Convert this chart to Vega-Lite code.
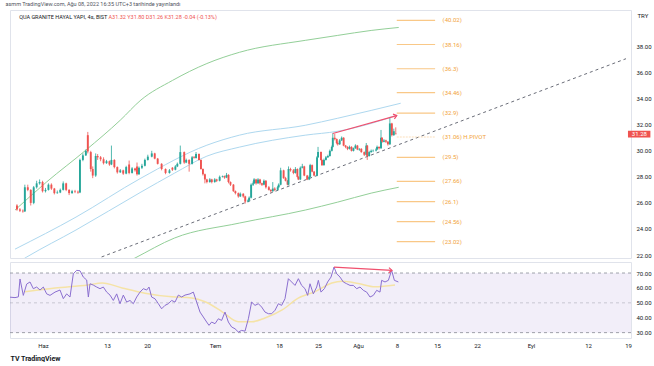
{
"$schema":"https://vega.github.io/schema/vega-lite/v6.json",
"background":"white",
"padding":{"left":5,"top":2,"right":0,"bottom":0},
"bounds":"flush",
"spacing":4,
"title":{"text":"asmm TradingView.com, Ağu 08, 2022 16:35 UTC+3 tarihinde yayınlandı","anchor":"start","fontSize":5.5,"fontWeight":"normal","color":"#50535e","offset":2,"dx":-2},
"config":{"font":"Roboto","view":{"stroke":"#e0e3eb"}},
"datasets":{
"candles":[
{"t":-3.875,"o":25.8,"h":25.9,"l":25.4,"c":25.5},
{"t":-3.5,"o":25.5,"h":25.6,"l":25.3,"c":25.4},
{"t":-3.125,"o":25.4,"h":25.5,"l":25.25,"c":25.35},
{"t":-2.875,"o":25.35,"h":27.4,"l":25.3,"c":27.2},
{"t":-2.5,"o":27.2,"h":27.4,"l":26.9,"c":27.0},
{"t":-2.125,"o":27.0,"h":27.05,"l":25.8,"c":26.0},
{"t":-1.75,"o":26.0,"h":27.3,"l":25.9,"c":27.2},
{"t":-1.375,"o":27.2,"h":27.7,"l":27.1,"c":27.5},
{"t":-1,"o":27.5,"h":27.8,"l":27.4,"c":27.6},
{"t":-0.625,"o":27.6,"h":27.7,"l":26.8,"c":26.9},
{"t":-0.25,"o":26.9,"h":27.15,"l":26.8,"c":27.0},
{"t":0.125,"o":27.0,"h":27.5,"l":26.95,"c":27.4},
{"t":0.5,"o":27.4,"h":27.5,"l":27.0,"c":27.1},
{"t":0.875,"o":27.1,"h":27.15,"l":26.65,"c":26.75},
{"t":1.25,"o":26.75,"h":26.95,"l":26.7,"c":26.8},
{"t":1.625,"o":26.8,"h":27.1,"l":26.75,"c":27.0},
{"t":2,"o":27.0,"h":27.65,"l":26.95,"c":27.5},
{"t":2.375,"o":27.5,"h":27.55,"l":26.9,"c":27.0},
{"t":2.75,"o":27.0,"h":27.05,"l":26.6,"c":26.75},
{"t":3.125,"o":26.75,"h":27.0,"l":26.7,"c":26.9},
{"t":3.5,"o":26.9,"h":27.0,"l":26.75,"c":26.85},
{"t":3.875,"o":26.85,"h":26.95,"l":26.7,"c":26.8},
{"t":4.125,"o":26.8,"h":29.4,"l":26.75,"c":29.3},
{"t":4.5,"o":29.3,"h":29.8,"l":29.2,"c":29.65},
{"t":4.875,"o":29.65,"h":30.1,"l":29.6,"c":30.0},
{"t":5.125,"o":31.2,"h":31.45,"l":29.8,"c":29.95},
{"t":5.5,"o":29.9,"h":30.0,"l":28.4,"c":28.6},
{"t":5.75,"o":28.6,"h":28.8,"l":27.9,"c":28.1},
{"t":6.125,"o":28.1,"h":29.8,"l":28.0,"c":29.6},
{"t":6.375,"o":29.6,"h":29.75,"l":29.3,"c":29.5},
{"t":6.75,"o":29.5,"h":29.6,"l":29.2,"c":29.35},
{"t":7.125,"o":29.35,"h":29.5,"l":28.95,"c":29.05},
{"t":7.5,"o":29.05,"h":29.3,"l":29.0,"c":29.2},
{"t":7.875,"o":29.2,"h":29.25,"l":28.85,"c":28.95},
{"t":8.125,"o":28.95,"h":30.4,"l":28.9,"c":29.3},
{"t":8.5,"o":29.3,"h":29.35,"l":28.65,"c":28.75},
{"t":8.875,"o":28.75,"h":28.8,"l":28.25,"c":28.35},
{"t":9.25,"o":28.35,"h":28.6,"l":28.3,"c":28.5},
{"t":9.625,"o":28.5,"h":28.55,"l":28.15,"c":28.25},
{"t":10,"o":28.25,"h":28.85,"l":28.2,"c":28.75},
{"t":10.375,"o":28.95,"h":29.25,"l":28.2,"c":28.3},
{"t":10.75,"o":28.3,"h":28.75,"l":28.25,"c":28.65},
{"t":11.125,"o":28.65,"h":28.7,"l":28.4,"c":28.5},
{"t":11.375,"o":28.8,"h":29.1,"l":28.1,"c":28.2},
{"t":11.625,"o":28.2,"h":28.8,"l":28.15,"c":28.7},
{"t":12,"o":28.7,"h":29.0,"l":28.6,"c":28.85},
{"t":12.375,"o":28.85,"h":29.4,"l":28.8,"c":29.3},
{"t":12.75,"o":29.3,"h":29.7,"l":29.25,"c":29.55},
{"t":13.25,"o":29.55,"h":30.0,"l":29.5,"c":29.8},
{"t":13.625,"o":29.8,"h":29.85,"l":29.35,"c":29.4},
{"t":14,"o":29.4,"h":29.45,"l":28.95,"c":29.0},
{"t":14.5,"o":29.0,"h":29.05,"l":28.5,"c":28.6},
{"t":15,"o":28.6,"h":28.65,"l":28.2,"c":28.3},
{"t":15.5,"o":28.3,"h":28.6,"l":28.25,"c":28.5},
{"t":15.875,"o":28.7,"h":28.75,"l":28.45,"c":28.55},
{"t":16.25,"o":28.55,"h":28.9,"l":28.5,"c":28.8},
{"t":16.5,"o":28.8,"h":29.1,"l":28.75,"c":29.0},
{"t":16.875,"o":29.0,"h":30.4,"l":28.95,"c":29.9},
{"t":17.375,"o":29.9,"h":29.95,"l":29.0,"c":29.1},
{"t":17.625,"o":29.1,"h":29.4,"l":29.05,"c":29.3},
{"t":18,"o":29.3,"h":29.35,"l":28.4,"c":29.0},
{"t":18.375,"o":29.0,"h":29.6,"l":28.95,"c":29.5},
{"t":18.625,"o":29.5,"h":29.6,"l":29.4,"c":29.45},
{"t":18.875,"o":29.45,"h":29.9,"l":29.4,"c":29.75},
{"t":19.25,"o":29.75,"h":29.8,"l":29.25,"c":29.3},
{"t":19.5,"o":29.3,"h":29.35,"l":28.55,"c":28.6},
{"t":19.75,"o":28.6,"h":28.65,"l":28.1,"c":28.2},
{"t":20,"o":28.2,"h":28.25,"l":27.5,"c":27.8},
{"t":20.25,"o":27.8,"h":27.85,"l":27.5,"c":27.6},
{"t":20.625,"o":27.6,"h":27.9,"l":27.55,"c":27.8},
{"t":20.875,"o":27.8,"h":27.85,"l":27.5,"c":27.6},
{"t":21.25,"o":27.6,"h":27.9,"l":27.55,"c":27.8},
{"t":21.5,"o":27.8,"h":27.85,"l":27.6,"c":27.7},
{"t":21.875,"o":27.7,"h":28.1,"l":27.65,"c":28.0},
{"t":22.25,"o":28.0,"h":28.1,"l":27.95,"c":28.05},
{"t":22.5,"o":28.05,"h":28.1,"l":27.85,"c":27.95},
{"t":22.75,"o":27.95,"h":28.3,"l":27.9,"c":28.15},
{"t":23,"o":28.15,"h":28.2,"l":27.5,"c":27.6},
{"t":23.25,"o":27.6,"h":27.65,"l":27.3,"c":27.4},
{"t":23.625,"o":27.4,"h":27.45,"l":26.85,"c":26.9},
{"t":23.875,"o":26.9,"h":26.95,"l":26.65,"c":26.75},
{"t":24.25,"o":26.75,"h":26.8,"l":26.4,"c":26.5},
{"t":24.5,"o":26.5,"h":26.8,"l":26.45,"c":26.7},
{"t":24.875,"o":26.7,"h":26.75,"l":26.4,"c":26.5},
{"t":25.125,"o":26.5,"h":26.55,"l":25.95,"c":26.1},
{"t":25.5,"o":26.1,"h":26.3,"l":26.05,"c":26.2},
{"t":25.625,"o":26.2,"h":26.5,"l":26.15,"c":26.4},
{"t":25.875,"o":26.4,"h":27.5,"l":26.35,"c":27.4},
{"t":26.125,"o":27.4,"h":27.65,"l":27.3,"c":27.5},
{"t":26.25,"o":27.5,"h":27.9,"l":27.45,"c":27.8},
{"t":26.5,"o":27.8,"h":27.85,"l":27.4,"c":27.5},
{"t":26.75,"o":27.5,"h":27.9,"l":27.45,"c":27.8},
{"t":27,"o":27.8,"h":27.85,"l":27.4,"c":27.5},
{"t":27.25,"o":27.5,"h":27.55,"l":27.3,"c":27.4},
{"t":27.5,"o":27.4,"h":27.8,"l":27.35,"c":27.7},
{"t":27.75,"o":27.7,"h":27.75,"l":27.1,"c":27.2},
{"t":28.125,"o":27.2,"h":27.3,"l":26.95,"c":27.0},
{"t":28.375,"o":27.0,"h":27.05,"l":26.8,"c":26.9},
{"t":28.625,"o":26.9,"h":27.6,"l":26.85,"c":27.1},
{"t":28.875,"o":27.1,"h":27.2,"l":26.9,"c":27.0},
{"t":29.25,"o":27.0,"h":27.3,"l":26.95,"c":27.2},
{"t":29.375,"o":27.2,"h":27.5,"l":27.15,"c":27.4},
{"t":29.625,"o":27.4,"h":28.7,"l":27.35,"c":28.5},
{"t":30,"o":28.5,"h":28.55,"l":27.85,"c":27.9},
{"t":30.25,"o":27.9,"h":28.0,"l":27.65,"c":27.7},
{"t":30.5,"o":27.7,"h":27.75,"l":27.35,"c":27.4},
{"t":30.625,"o":27.4,"h":28.8,"l":27.35,"c":28.6},
{"t":30.875,"o":28.6,"h":28.7,"l":28.4,"c":28.5},
{"t":31.25,"o":28.5,"h":28.6,"l":28.2,"c":28.3},
{"t":31.5,"o":28.3,"h":28.75,"l":28.25,"c":28.6},
{"t":31.75,"o":28.6,"h":28.65,"l":27.95,"c":28.0},
{"t":31.875,"o":28.0,"h":28.05,"l":27.75,"c":27.8},
{"t":32.125,"o":27.8,"h":28.8,"l":27.75,"c":28.7},
{"t":32.375,"o":28.7,"h":29.0,"l":28.65,"c":28.8},
{"t":32.625,"o":28.8,"h":28.85,"l":28.05,"c":28.1},
{"t":33,"o":28.1,"h":28.15,"l":27.75,"c":27.8},
{"t":33.25,"o":27.8,"h":28.1,"l":27.75,"c":28.0},
{"t":33.375,"o":28.0,"h":29.0,"l":27.95,"c":28.9},
{"t":33.625,"o":28.9,"h":28.95,"l":28.35,"c":28.4},
{"t":33.875,"o":28.4,"h":28.45,"l":28.05,"c":28.1},
{"t":34.25,"o":28.1,"h":29.6,"l":28.05,"c":29.5},
{"t":34.375,"o":29.5,"h":30.3,"l":29.45,"c":29.9},
{"t":34.75,"o":29.9,"h":29.95,"l":29.25,"c":29.3},
{"t":34.875,"o":29.3,"h":29.35,"l":28.85,"c":28.9},
{"t":35.125,"o":28.9,"h":29.4,"l":28.85,"c":29.3},
{"t":35.375,"o":29.3,"h":29.6,"l":29.25,"c":29.5},
{"t":35.625,"o":29.5,"h":29.7,"l":29.45,"c":29.6},
{"t":35.875,"o":29.6,"h":30.1,"l":29.55,"c":30.0},
{"t":36.125,"o":30.0,"h":30.4,"l":29.95,"c":30.3},
{"t":36.25,"o":30.3,"h":31.35,"l":30.25,"c":31.0},
{"t":36.5,"o":31.0,"h":31.3,"l":30.8,"c":30.9},
{"t":36.75,"o":30.9,"h":30.95,"l":30.5,"c":30.6},
{"t":36.875,"o":30.6,"h":30.7,"l":30.4,"c":30.5},
{"t":37.125,"o":30.5,"h":30.9,"l":30.45,"c":30.8},
{"t":37.375,"o":30.8,"h":31.1,"l":30.75,"c":31.0},
{"t":37.625,"o":31.0,"h":31.05,"l":30.35,"c":30.4},
{"t":37.875,"o":30.4,"h":30.45,"l":30.2,"c":30.3},
{"t":38.125,"o":30.3,"h":30.35,"l":30.05,"c":30.15},
{"t":38.375,"o":30.15,"h":30.4,"l":30.1,"c":30.3},
{"t":38.625,"o":30.3,"h":30.35,"l":29.95,"c":30.0},
{"t":38.875,"o":30.0,"h":30.25,"l":29.95,"c":30.2},
{"t":39.125,"o":30.2,"h":30.5,"l":30.15,"c":30.4},
{"t":39.375,"o":30.4,"h":30.45,"l":30.05,"c":30.1},
{"t":39.625,"o":30.1,"h":30.2,"l":30.0,"c":30.15},
{"t":39.875,"o":30.15,"h":30.2,"l":29.85,"c":29.9},
{"t":40.25,"o":29.9,"h":29.95,"l":29.6,"c":29.7},
{"t":40.5,"o":29.7,"h":30.6,"l":29.65,"c":30.4},
{"t":40.625,"o":30.4,"h":30.45,"l":29.3,"c":29.6},
{"t":40.875,"o":29.6,"h":30.0,"l":29.55,"c":29.9},
{"t":41.125,"o":29.9,"h":30.1,"l":29.85,"c":30.0},
{"t":41.375,"o":30.0,"h":30.1,"l":29.9,"c":30.02},
{"t":41.75,"o":30.02,"h":30.2,"l":29.95,"c":30.1},
{"t":41.875,"o":30.1,"h":30.4,"l":30.05,"c":30.3},
{"t":42.125,"o":30.3,"h":30.35,"l":30.1,"c":30.2},
{"t":42.375,"o":30.2,"h":31.6,"l":30.15,"c":31.0},
{"t":42.5,"o":31.0,"h":31.05,"l":30.6,"c":30.7},
{"t":42.75,"o":30.7,"h":30.9,"l":30.65,"c":30.8},
{"t":43,"o":30.8,"h":30.85,"l":30.6,"c":30.7},
{"t":43.25,"o":30.7,"h":30.75,"l":30.4,"c":30.5},
{"t":43.5,"o":30.5,"h":32.6,"l":30.45,"c":32.1},
{"t":43.75,"o":32.1,"h":32.15,"l":31.1,"c":31.2},
{"t":44,"o":31.2,"h":31.7,"l":31.15,"c":31.5},
{"t":44.25,"o":31.32,"h":31.8,"l":31.26,"c":31.28}
],
"bands":[
{"s":"ug","t":-4.125,"v":25.45},{"s":"ug","t":-0.125,"v":27.6},{"s":"ug","t":4.875,"v":30.05},{"s":"ug","t":9.25,"v":32.35},{"s":"ug","t":11.875,"v":33.9},{"s":"ug","t":15.875,"v":35.4},{"s":"ug","t":20.25,"v":36.7},{"s":"ug","t":24.375,"v":37.56},{"s":"ug","t":32.75,"v":38.48},{"s":"ug","t":36.875,"v":38.86},{"s":"ug","t":41.125,"v":39.24},{"s":"ug","t":44.625,"v":39.47},
{"s":"lg","t":8.5,"v":20.95},{"s":"lg","t":11.125,"v":21.77},{"s":"lg","t":16.125,"v":23.3},{"s":"lg","t":24.375,"v":24.45},{"s":"lg","t":32.75,"v":25.45},{"s":"lg","t":36.875,"v":26.06},{"s":"lg","t":41.125,"v":26.75},{"s":"lg","t":44.625,"v":27.2},
{"s":"ub","t":-4.125,"v":22.45},{"s":"ub","t":3.625,"v":24.91},{"s":"ub","t":11.875,"v":27.9},{"s":"ub","t":20.25,"v":30.43},{"s":"ub","t":24.375,"v":31.2},{"s":"ub","t":32.75,"v":31.96},{"s":"ub","t":36.875,"v":32.5},{"s":"ub","t":41.125,"v":33.1},{"s":"ub","t":44.875,"v":33.65},
{"s":"ib","t":-4.125,"v":21.3},{"s":"ib","t":-2.625,"v":21.85},{"s":"ib","t":3.625,"v":23.92},{"s":"ib","t":11.875,"v":26.83},{"s":"ib","t":16.125,"v":28.28},{"s":"ib","t":20.25,"v":29.59},{"s":"ib","t":24.375,"v":30.28},{"s":"ib","t":32.75,"v":31.2},{"s":"ib","t":36.875,"v":31.5},{"s":"ib","t":41.125,"v":32.1},{"s":"ib","t":44.375,"v":32.73}
],
"trend":[{"t":6.875,"v":21.85},{"t":73.5,"v":37.07}],
"parrow":[{"t":36.25,"v":31.33},{"t":44.375,"v":32.7}],
"rarrow":[{"t":36.375,"v":74},{"t":43.625,"v":71.8}],
"pivots":[
{"v":40.02,"k":"(40.02)","p":0},{"v":38.16,"k":"(38.16)","p":0},{"v":36.3,"k":"(36.3)","p":0},{"v":34.46,"k":"(34.46)","p":0},{"v":32.9,"k":"(32.9)","p":0},{"v":31.06,"k":"(31.06) H.PIVOT","p":1},{"v":29.5,"k":"(29.5)","p":0},{"v":27.66,"k":"(27.66)","p":0},{"v":26.1,"k":"(26.1)","p":0},{"v":24.56,"k":"(24.56)","p":0},{"v":23.02,"k":"(23.02)","p":0}
],
"rsi":[
{"t":-4.125,"v":53.8},{"t":-3.5,"v":53.5},{"t":-3.08,"v":54},{"t":-2.875,"v":66},{"t":-2.46,"v":55},{"t":-2.04,"v":62.6},{"t":-1.625,"v":64},{"t":-1.21,"v":59.5},{"t":-0.79,"v":60.6},{"t":-0.375,"v":58.6},{"t":0.04,"v":60.6},{"t":0.46,"v":56},{"t":0.875,"v":55},{"t":1.5,"v":57.2},{"t":2.125,"v":58.6},{"t":2.54,"v":52.8},{"t":2.96,"v":56},{"t":3.375,"v":53.9},{"t":3.79,"v":69.5},{"t":4.21,"v":71.8},{"t":4.625,"v":71.5},{"t":5.04,"v":67.3},{"t":5.46,"v":65.3},{"t":5.67,"v":53.9},{"t":5.875,"v":62.8},{"t":6.29,"v":61.9},{"t":6.71,"v":60.6},{"t":7.125,"v":59.5},{"t":7.54,"v":60.6},{"t":7.96,"v":57.2},{"t":8.375,"v":55.2},{"t":8.79,"v":51.6},{"t":9.21,"v":56},{"t":9.625,"v":49.4},{"t":10.04,"v":55.2},{"t":10.46,"v":50.5},{"t":10.875,"v":51.6},{"t":11.29,"v":49.4},{"t":11.71,"v":53.9},{"t":12.125,"v":57.2},{"t":12.54,"v":59.5},{"t":12.96,"v":58.6},{"t":13.25,"v":60.6},{"t":13.58,"v":53.9},{"t":14,"v":52.7},{"t":14.42,"v":49.4},{"t":14.83,"v":46},{"t":15.25,"v":48.3},{"t":15.67,"v":49.4},{"t":16.08,"v":51.6},{"t":16.5,"v":50.5},{"t":16.92,"v":55.2},{"t":17.33,"v":53.9},{"t":17.75,"v":55.2},{"t":18.375,"v":56},{"t":18.79,"v":57.2},{"t":19.21,"v":50.5},{"t":19.625,"v":43.8},{"t":20.04,"v":40.5},{"t":20.46,"v":37.1},{"t":20.75,"v":34.9},{"t":21.08,"v":37.1},{"t":21.5,"v":36},{"t":21.92,"v":39.3},{"t":22.33,"v":38.2},{"t":22.75,"v":43.8},{"t":23.17,"v":37.1},{"t":23.58,"v":33.8},{"t":24,"v":32.6},{"t":24.42,"v":30.4},{"t":24.83,"v":31.5},{"t":25.25,"v":31},{"t":25.67,"v":39.3},{"t":26.08,"v":50.5},{"t":26.5,"v":48.3},{"t":26.92,"v":49.4},{"t":27.33,"v":47.2},{"t":27.75,"v":43.8},{"t":28.17,"v":42.7},{"t":28.58,"v":42.7},{"t":29,"v":45},{"t":29.42,"v":49.4},{"t":29.83,"v":48.3},{"t":30.25,"v":52.8},{"t":30.67,"v":66.2},{"t":31.08,"v":64},{"t":31.5,"v":61.7},{"t":31.92,"v":66.2},{"t":32.33,"v":61.7},{"t":32.75,"v":59.5},{"t":33.08,"v":55},{"t":33.375,"v":62.8},{"t":33.79,"v":56},{"t":34.21,"v":60.6},{"t":34.42,"v":65.1},{"t":34.75,"v":57.2},{"t":35.17,"v":59.5},{"t":35.58,"v":64},{"t":36,"v":67.3},{"t":36.375,"v":74},{"t":36.71,"v":69.5},{"t":37.125,"v":67.3},{"t":37.54,"v":64},{"t":37.96,"v":62.8},{"t":38.375,"v":61.7},{"t":38.79,"v":61.7},{"t":39.21,"v":59.5},{"t":39.625,"v":60.6},{"t":40.04,"v":58.4},{"t":40.46,"v":57.2},{"t":40.875,"v":53.9},{"t":41.29,"v":55},{"t":41.71,"v":58.4},{"t":42.125,"v":57.2},{"t":42.33,"v":65.1},{"t":42.75,"v":64},{"t":43.17,"v":65.1},{"t":43.58,"v":71.8},{"t":43.92,"v":65.1},{"t":44.42,"v":64}
],
"ma":[
{"t":-2.25,"v":57.5},{"t":1.5,"v":59.9},{"t":5.6,"v":62},{"t":7.4,"v":63.3},{"t":9.9,"v":60},{"t":12.75,"v":56.5},{"t":16.1,"v":54},{"t":18.6,"v":53.2},{"t":20.25,"v":50.7},{"t":22.4,"v":44},{"t":24.4,"v":37.3},{"t":26.1,"v":37.3},{"t":27.75,"v":39.8},{"t":29.9,"v":45.2},{"t":31.9,"v":53.2},{"t":34,"v":57.5},{"t":36.1,"v":63.3},{"t":37.4,"v":64.5},{"t":39.4,"v":63},{"t":41.5,"v":60.8},{"t":44,"v":62}
],
"rsilevels":[{"v":70},{"v":50},{"v":30}]
},
"vconcat":[
{
"width":621,"height":248,
"layer":[
{"data":{"name":"bands"},"mark":{"type":"line","clip":true,"strokeWidth":1,"interpolate":"monotone"},
"encoding":{
"x":{"field":"t","type":"quantitative","scale":{"domain":[-4.125,73.5],"nice":false,"zero":false},"axis":null},
"y":{"field":"v","type":"quantitative","scale":{"domain":[21.77,40.81],"nice":false,"zero":false},
"axis":{"orient":"right","values":[22,24,26,28,30,32,34,36,38],"tickCount":30,"format":".2f","title":"TRY","titleAngle":0,"titleAlign":"left","titleBaseline":"top","titleX":6,"titleY":2,"titleFontSize":6,"titleFontWeight":"normal","titleColor":"#131722","labelFontSize":6,"labelColor":"#131722","labelPadding":5,"labelOverlap":false,"labelBound":false,"ticks":false,"domain":false,"grid":false}},
"color":{"field":"s","type":"nominal","scale":{"domain":["ug","lg","ub","ib"],"range":["#93cf98","#93cf98","#aed8ef","#aed8ef"]},"legend":null},
"detail":{"field":"s"}}},
{"data":{"name":"trend"},"mark":{"type":"line","clip":true,"strokeWidth":1,"strokeDash":[3,3],"color":"#6a6d78"},
"encoding":{
"x":{"field":"t","type":"quantitative","axis":null},
"y":{"field":"v","type":"quantitative"}}},
{"data":{"name":"pivots"},"mark":{"type":"rule","strokeWidth":1.2},
"encoding":{
"x":{"datum":44.375,"type":"quantitative","axis":null},
"x2":{"datum":49.25},
"y":{"field":"v","type":"quantitative"},
"color":{"condition":{"test":"datum.p==1","value":"#fbe0bb"},"value":"#f9c887"},
"strokeDash":{"condition":{"test":"datum.p==1","value":[2,1]},"value":[1,0]}}},
{"data":{"name":"pivots"},"mark":{"type":"text","align":"left","baseline":"middle","fontSize":6,"color":"#f2a33a"},
"encoding":{
"x":{"datum":50.2,"type":"quantitative","axis":null},
"y":{"field":"v","type":"quantitative"},
"text":{"field":"k"}}},
{"data":{"name":"candles"},"mark":{"type":"rule","strokeWidth":0.8},
"encoding":{
"x":{"field":"t","type":"quantitative","axis":null},
"y":{"field":"l","type":"quantitative"},
"y2":{"field":"h"},
"color":{"condition":{"test":"datum.c >= datum.o","value":"#26a69a"},"value":"#ef5350"}}},
{"data":{"name":"candles"},"mark":{"type":"bar","size":1.9},
"encoding":{
"x":{"field":"t","type":"quantitative","axis":null},
"y":{"field":"o","type":"quantitative"},
"y2":{"field":"c"},
"color":{"condition":{"test":"datum.c >= datum.o","value":"#26a69a"},"value":"#ef5350"}}},
{"data":{"name":"parrow"},"mark":{"type":"line","strokeWidth":1.2,"color":"#f0506e"},
"encoding":{
"x":{"field":"t","type":"quantitative","axis":null},
"y":{"field":"v","type":"quantitative"}}},
{"data":{"name":"parrow"},"transform":[{"filter":"datum.t > 40"}],"mark":{"type":"point","shape":"M -1 -0.8 L 0 0 L -1 0.8","filled":false,"size":40,"strokeWidth":1.2,"color":"#f0506e","angle":-16,"opacity":1},
"encoding":{
"x":{"field":"t","type":"quantitative","axis":null},
"y":{"field":"v","type":"quantitative"}}},
{"data":{"values":[{}]},"mark":{"type":"text","align":"left","baseline":"middle","fontSize":5.5,"color":"#131722"},
"encoding":{
"x":{"datum":-3.6,"type":"quantitative","axis":null},
"y":{"datum":40.3,"type":"quantitative"},
"text":{"value":"QUA GRANITE HAYAL YAPI, 4s, BIST"}}},
{"data":{"values":[{}]},"mark":{"type":"text","align":"left","baseline":"middle","fontSize":5.5,"color":"#ef5350"},
"encoding":{
"x":{"datum":7.75,"type":"quantitative","axis":null},
"y":{"datum":40.3,"type":"quantitative"},
"text":{"value":"A31.32 Y31.80 D31.26 K31.28 -0.04 (-0.13%)"}}},
{"data":{"values":[{}]},"mark":{"type":"rect","color":"#ef5350"},
"encoding":{
"x":{"datum":73.75,"type":"quantitative","axis":null},
"x2":{"datum":76.6},
"y":{"datum":31.02,"type":"quantitative"},
"y2":{"datum":31.54}}},
{"data":{"values":[{}]},"mark":{"type":"text","align":"center","baseline":"middle","fontSize":6,"color":"white"},
"encoding":{
"x":{"datum":75.2,"type":"quantitative","axis":null},
"y":{"datum":31.28,"type":"quantitative"},
"text":{"value":"31.28"}}}
]
},
{
"width":621,"height":76,
"layer":[
{"data":{"name":"rsi"},"mark":{"type":"line","strokeWidth":1,"color":"#8b6fd0","opacity":0},
"encoding":{
"x":{"field":"t","type":"quantitative","scale":{"domain":[-4.125,73.5],"nice":false,"zero":false},
"axis":{"orient":"bottom","values":[0,8,13,21.5,29.5,34.375,39.375,44.25,49.25,54.25,61,68.125,73.125],"tickCount":30,
"labelExpr":"datum.value==0?'Haz':datum.value==8?'13':datum.value==13?'20':datum.value==21.5?'Tem':datum.value==29.5?'18':datum.value==34.375?'25':datum.value==39.375?'Ağu':datum.value==44.25?'8':datum.value==49.25?'15':datum.value==54.25?'22':datum.value==61?'Eyl':datum.value==68.125?'12':'19'",
"title":"TV TradingView","titleAnchor":"start","titleAlign":"left","titleFontSize":7,"titleFontWeight":"bold","titleColor":"#131722","titlePadding":6,
"labelFontSize":6,"labelColor":"#131722","labelPadding":4,"labelOverlap":false,"labelFlush":false,"ticks":false,"domain":false,"grid":false}},
"y":{"field":"v","type":"quantitative","scale":{"domain":[26.4,77.4],"nice":false,"zero":false},
"axis":{"orient":"right","values":[30,40,50,60,70],"tickCount":30,"format":".2f","title":null,"labelFontSize":6,"labelColor":"#131722","labelPadding":5,"labelOverlap":false,"labelBound":false,"ticks":false,"domain":false,"grid":false}}}},
{"data":{"values":[{}]},"mark":{"type":"rect","color":"#7e57c2","opacity":0.1},
"encoding":{
"x":{"datum":-4.125,"type":"quantitative"},
"x2":{"datum":73.5},
"y":{"datum":30,"type":"quantitative"},
"y2":{"datum":70}}},
{"data":{"name":"rsilevels"},"mark":{"type":"rule","strokeDash":[3,3],"strokeWidth":1,"color":"#9598a1"},
"encoding":{
"x":{"datum":-4.125,"type":"quantitative"},
"x2":{"datum":73.5},
"y":{"field":"v","type":"quantitative"},
"opacity":{"condition":{"test":"datum.v==50","value":0.45},"value":0.9}}},
{"data":{"name":"ma"},"mark":{"type":"line","strokeWidth":1.5,"color":"#f5e3a6","interpolate":"monotone"},
"encoding":{
"x":{"field":"t","type":"quantitative"},
"y":{"field":"v","type":"quantitative"}}},
{"data":{"name":"rsi"},"mark":{"type":"line","strokeWidth":1,"color":"#8b6fd0"},
"encoding":{
"x":{"field":"t","type":"quantitative"},
"y":{"field":"v","type":"quantitative"}}},
{"data":{"name":"rarrow"},"mark":{"type":"line","strokeWidth":1.2,"color":"#f0506e"},
"encoding":{
"x":{"field":"t","type":"quantitative"},
"y":{"field":"v","type":"quantitative"}}},
{"data":{"name":"rarrow"},"transform":[{"filter":"datum.t > 40"}],"mark":{"type":"point","shape":"M -1 -0.8 L 0 0 L -1 0.8","filled":false,"size":40,"strokeWidth":1.2,"color":"#f0506e","angle":3,"opacity":1},
"encoding":{
"x":{"field":"t","type":"quantitative"},
"y":{"field":"v","type":"quantitative"}}}
]
}
]
}
